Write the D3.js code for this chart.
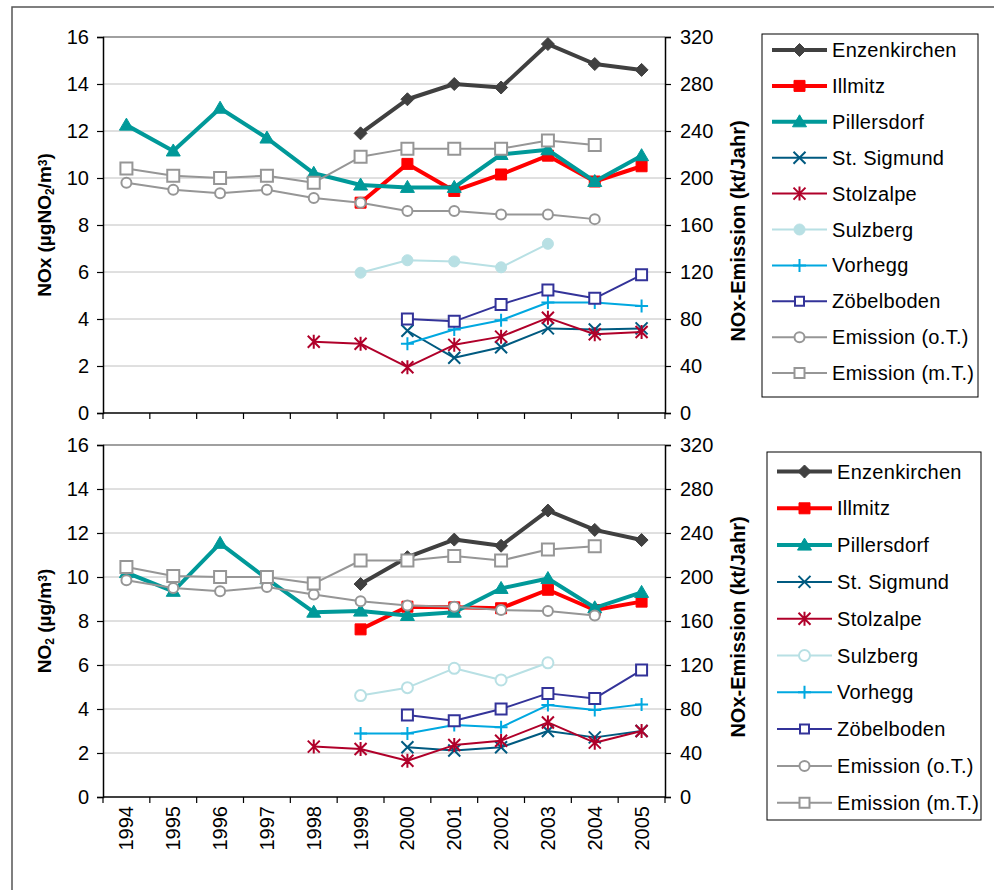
<!DOCTYPE html>
<html>
<head>
<meta charset="utf-8">
<script src="https://cdn.jsdelivr.net/npm/d3@7"></script>
<style>
  body { margin: 0; background: #fff; }
  svg { font-family: "Liberation Sans", Arial, sans-serif; }
</style>
</head>
<body>
<div id="chart"></div>
<script>
// Years and tick labels
var years = ["1994","1995","1996","1997","1998","1999","2000","2001","2002","2003","2004","2005"];
var leftTicks  = [0, 2, 4, 6, 8, 10, 12, 14, 16];
var rightTicks = [0, 40, 80, 120, 160, 200, 240, 280, 320];

// NOx (µgNO2/m³) – upper panel
var enzTop = [null,null,null,null,null,11.9,13.35,14.0,13.85,15.7,14.85,14.6];
var illTop = [null,null,null,null,null,8.95,10.6,9.45,10.15,10.95,9.85,10.5];
var pilTop = [12.25,11.15,12.97,11.7,10.2,9.7,9.6,9.6,11.0,11.2,9.85,10.95];
var sigTop = [null,null,null,null,null,null,3.5,2.35,2.8,3.6,3.55,3.6];
var stoTop = [null,null,null,null,3.03,2.95,1.95,2.9,3.25,4.05,3.35,3.45];
var sulTop = [null,null,null,null,null,5.97,6.5,6.45,6.2,7.2,null,null];
var vorTop = [null,null,null,null,null,null,2.95,3.55,3.95,4.7,4.7,4.55];
var zobTop = [null,null,null,null,null,null,4.0,3.9,4.62,5.23,4.88,5.88];
var emoTop = [196,190,187,190,183,179,172,172,169,169,165,null];
var emmTop = [208,202,200,202,196,218,225,225,225,232,228,null];

// NO2 (µg/m³) – lower panel
var enzBot = [null,null,null,null,null,9.68,10.9,11.7,11.42,13.02,12.14,11.68];
var illBot = [null,null,null,null,null,7.62,8.65,8.62,8.58,9.42,8.5,8.88];
var pilBot = [10.2,9.35,11.53,9.92,8.4,8.45,8.25,8.4,9.48,9.93,8.6,9.3];
var sigBot = [null,null,null,null,null,null,2.26,2.11,2.26,3.0,2.71,3.0];
var stoBot = [null,null,null,null,2.29,2.18,1.65,2.36,2.56,3.39,2.47,3.0];
var sulBot = [null,null,null,null,null,4.61,4.97,5.85,5.32,6.1,null,null];
var vorBot = [null,null,null,null,null,2.89,2.89,3.27,3.17,4.18,3.95,4.21];
var zobBot = [null,null,null,null,null,null,3.73,3.47,4.0,4.71,4.48,5.77];
var emoBot = [197,190,187,191,184,178,174,173,170,169,165,null];
var emmBot = [209,201,200,200,194,215,215,219,215,225,228,null];

// series styles (name, color, width, marker, filled, right axis)
var styles = [
  {name: "Enzenkirchen",     color: "#404040", w: 4,   m: "diamond",  fill: true},
  {name: "Illmitz",          color: "#ff0000", w: 4,   m: "square",   fill: true},
  {name: "Pillersdorf",      color: "#009999", w: 4,   m: "triangle", fill: true},
  {name: "St. Sigmund",      color: "#005a80", w: 2,   m: "x"},
  {name: "Stolzalpe",        color: "#b0002a", w: 2,   m: "star"},
  {name: "Sulzberg",         color: "#b8e0e4", w: 2,   m: "circle",   fill: true},
  {name: "Vorhegg",          color: "#00a8e0", w: 2,   m: "plus"},
  {name: "Zöbelboden",       color: "#333399", w: 2,   m: "square",   fill: false, size: 11},
  {name: "Emission (o.T.)",  color: "#969696", w: 2,   m: "circle",   fill: false, right: true},
  {name: "Emission (m.T.)",  color: "#969696", w: 2,   m: "square",   fill: false, size: 12, right: true}
];

var W = 994, H = 890;
var svg = d3.select("#chart").append("svg").attr("width", W).attr("height", H);

// outer frame
svg.append("rect").attr("x", 12).attr("y", 7).attr("width", 990).attr("height", 900)
  .attr("fill", "none").attr("stroke", "#555").attr("stroke-width", 1.5);

var x = d3.scaleBand().domain(years).range([103, 665]).padding(0);
var bw = x.bandwidth();
function cx(i) { return x(years[i]) + bw / 2; }

function markerPath(m, s) {
  var h = s / 2;
  if (m === "diamond") return "M0," + (-h) + "L" + h + ",0L0," + h + "L" + (-h) + ",0Z";
  if (m === "square") return "M" + (-h) + "," + (-h) + "h" + s + "v" + s + "h" + (-s) + "Z";
  if (m === "triangle") return "M0," + (-h - 1) + "L" + (h + 1) + "," + (h - 1) + "L" + (-h - 1) + "," + (h - 1) + "Z";
  if (m === "circle") return d3.symbol(d3.symbolCircle, Math.PI * h * h)();
  if (m === "x") return "M" + (-h) + "," + (-h) + "L" + h + "," + h + "M" + (-h) + "," + h + "L" + h + "," + (-h);
  if (m === "plus") return "M" + (-h) + ",0H" + h + "M0," + (-h) + "V" + h;
  if (m === "star") return "M" + (-h) + "," + (-h) + "L" + h + "," + h + "M" + (-h) + "," + h + "L" + h + "," + (-h) + "M0," + (-h - 1) + "V" + (h + 1);
}
var defSize = {diamond: 13, square: 11, triangle: 12, circle: 11, x: 12, plus: 13, star: 12};

function drawMarker(g, st, px, py, sulOpen) {
  var s = st.size || defSize[st.m];
  if (st.m === "circle" && !st.fill) s = 10;
  var filled = st.fill && !(sulOpen && st.name === "Sulzberg");
  var lineOnly = (st.m === "x" || st.m === "plus" || st.m === "star");
  g.append("path")
    .attr("transform", "translate(" + px + "," + py + ")")
    .attr("d", markerPath(st.m, s))
    .attr("fill", lineOnly ? "none" : (filled ? st.color : "#fff"))
    .attr("stroke", st.color)
    .attr("stroke-width", lineOnly ? 2 : (filled ? 1 : 2));
}

function panel(top, bottom, data, title, legendBox, sulOpen) {
  var yL = d3.scaleLinear().domain([0, 16]).range([bottom, top]);
  var yR = d3.scaleLinear().domain([0, 320]).range([bottom, top]);
  var g = svg.append("g");

  // gridlines
  g.selectAll(".grid").data(leftTicks.slice(1)).enter().append("line")
    .attr("x1", 103).attr("x2", 665)
    .attr("y1", function(d) { return yL(d); }).attr("y2", function(d) { return yL(d); })
    .attr("stroke", function(d) { return d === 16 ? "#808080" : "#c0c0c0"; })
    .attr("stroke-width", function(d) { return d === 16 ? 1.5 : 1; });

  // left axis
  var la = g.append("g").attr("transform", "translate(103,0)")
    .call(d3.axisLeft(yL).tickValues(leftTicks).tickSize(6).tickPadding(8).tickFormat(d3.format("d")));
  var ra = g.append("g").attr("transform", "translate(665,0)")
    .call(d3.axisRight(yR).tickValues(rightTicks).tickSize(6).tickPadding(9).tickFormat(d3.format("d")));
  [la, ra].forEach(function(a) {
    a.select(".domain").attr("stroke", "#000").attr("stroke-width", 1.5);
    a.selectAll(".tick line").attr("stroke", "#000").attr("stroke-width", 1.2);
    a.selectAll("text").attr("font-size", 20).attr("fill", "#000").attr("font-family", "Liberation Sans, Arial, sans-serif");
  });

  // x axis with ticks at category boundaries
  g.append("line").attr("x1", 103).attr("x2", 665).attr("y1", bottom).attr("y2", bottom)
    .attr("stroke", "#000").attr("stroke-width", 1.5);
  var bounds = years.map(function(d) { return x(d); }).concat([x.range()[1]]);
  g.selectAll(".xt").data(bounds).enter().append("line")
    .attr("x1", function(d) { return d; }).attr("x2", function(d) { return d; })
    .attr("y1", bottom).attr("y2", bottom + 6)
    .attr("stroke", "#000").attr("stroke-width", 1.2);

  // series lines and markers
  data.forEach(function(vals, k) {
    var st = styles[k];
    var ys = st.right ? yR : yL;
    var line = d3.line()
      .defined(function(d) { return d != null; })
      .x(function(d, i) { return cx(i); })
      .y(function(d) { return ys(d); });
    g.append("path").datum(vals).attr("d", line)
      .attr("fill", "none").attr("stroke", st.color).attr("stroke-width", st.w)
      .attr("stroke-linejoin", "round");
    vals.forEach(function(v, i) {
      if (v != null) drawMarker(g, st, cx(i), ys(v), sulOpen);
    });
  });

  // axis titles
  var mid = (top + bottom) / 2;
  var lt = g.append("text").attr("transform", "translate(51," + mid + ") rotate(-90)")
    .attr("text-anchor", "middle").attr("font-size", 19).attr("font-weight", "bold");
  title.forEach(function(p) {
    var ts = lt.append("tspan").text(p[0]);
    if (p[1]) ts.attr("baseline-shift", p[1] === "sub" ? "-25%" : "35%").attr("font-size", 12);
  });
  g.append("text").attr("transform", "translate(745," + (mid + 6) + ") rotate(-90)")
    .attr("text-anchor", "middle").attr("font-size", 20).attr("font-weight", "bold")
    .text("NOx-Emission (kt/Jahr)");

  // legend
  var lb = legendBox;
  g.append("rect").attr("x", lb.x).attr("y", lb.y).attr("width", lb.w).attr("height", lb.h)
    .attr("fill", "#fff").attr("stroke", "#000").attr("stroke-width", 1);
  styles.forEach(function(st, k) {
    var yy = lb.y0 + k * lb.step;
    g.append("line").attr("x1", lb.x + 10).attr("x2", lb.x + 65).attr("y1", yy).attr("y2", yy)
      .attr("stroke", st.color).attr("stroke-width", st.w);
    var legSt = Object.assign({}, st);
    if (legSt.size) legSt.size = legSt.size - 2;
    drawMarker(g, legSt, lb.x + 37.5, yy, sulOpen);
    g.append("text").attr("x", lb.x + 70).attr("y", yy + 7).attr("font-size", 20)
      .attr("letter-spacing", 0.3).text(st.name);
  });
}

panel(37, 413,
  [enzTop, illTop, pilTop, sigTop, stoTop, sulTop, vorTop, zobTop, emoTop, emmTop],
  [["NOx (µgNO"], ["2", "sub"], ["/m"], ["3", "sup"], [")"]],
  {x: 762, y: 34, w: 216, h: 363, y0: 50, step: 35.9}, false);

panel(445, 797,
  [enzBot, illBot, pilBot, sigBot, stoBot, sulBot, vorBot, zobBot, emoBot, emmBot],
  [["NO"], ["2", "sub"], [" (µg/m"], ["3", "sup"], [")"]],
  {x: 767, y: 452, w: 214, h: 368, y0: 471.5, step: 36.8}, true);

// year labels
svg.selectAll(".yl").data(years).enter().append("text")
  .attr("transform", function(d) { return "translate(" + (x(d) + bw / 2 + 7) + ",806) rotate(-90)"; })
  .attr("text-anchor", "end").attr("font-size", 20).text(function(d) { return d; });
</script>
</body>
</html>
